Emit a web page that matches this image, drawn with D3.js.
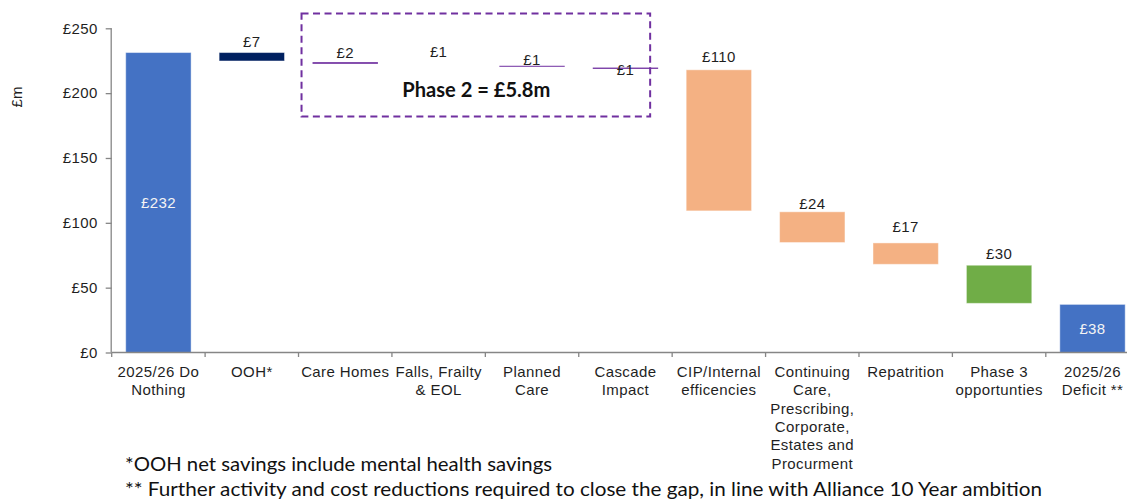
<!DOCTYPE html>
<html><head><meta charset="utf-8">
<script src="https://cdn.jsdelivr.net/npm/d3@7/dist/d3.min.js"></script>
<style>body{margin:0;background:#fff;overflow:hidden} svg{display:block}</style>
</head><body><svg id="c" width="1127" height="501"></svg>
<script>
// ---------- DATA ----------
const categories = ["2025/26 Do\nNothing","OOH*","Care Homes","Falls, Frailty\n& EOL","Planned\nCare","Cascade\nImpact","CIP/Internal\nefficencies","Continuing\nCare,\nPrescribing,\nCorporate,\nEstates and\nProcurment","Repatrition","Phase 3\nopportunties","2025/26\nDeficit **"];
const barLow  = [0,     224.8, 222.6, 221.8, 220.4, 218.7, 109.2, 84.8,  68.0, 37.9, 0];
const barHigh = [231.3, 231.3, 223.9, 222.6, 221.1, 219.7, 218.0, 108.5, 84.5, 67.3, 37.1];
const valueLabels = ["£232","£7","£2","£1","£1","£1","£110","£24","£17","£30","£38"];
const barKind = ["total","ooh","phase2","phase2hidden","phase2","phase2","saving","saving","saving","phase3","total"];
const yTicks = [0,50,100,150,200,250];
const yTickLabels = ["£0","£50","£100","£150","£200","£250"];
const yTitle = "£m";
const phase2Text = "Phase 2 = £5.8m";
const phase2Range = ["Care Homes","Cascade\nImpact"];
const phase2Values = [182, 261.5];
const footnotes = ["*OOH net savings include mental health savings",
  "** Further activity and cost reductions required to close the gap, in line with Alliance 10 Year ambition"];

// ---------- STYLE ----------
const kindColor = {total:"#4472C4", ooh:"#002060", phase2:"#7030A0", phase2hidden:"#ffffff", saving:"#F4B183", phase3:"#70AD47"};
const labelGap = [0, 5.6, 4.1, 6.8, 0.5, -7.1, 7.3, 3, 11.3, 6.3, 0];
const font = "'Liberation Sans', Arial, sans-serif";
const textCol = "#1f1f1f";
const axisCol = "#868686";

const svg = d3.select("#c");
const x = d3.scaleBand().domain(categories).range([111.7, 111.7 + 11*93.41]).paddingInner(0.3).paddingOuter(0.15);
const y = d3.scaleLinear().domain([0,250]).range([352.5, 28.3]);
const step = x.step(), bw = x.bandwidth();

// bars
const data = categories.map((c,i)=>({c, lo:barLow[i], hi:barHigh[i], label:valueLabels[i], kind:barKind[i], gap:labelGap[i]}));
svg.append("g").selectAll("rect").data(data).join("rect")
  .attr("x", d=>x(d.c)).attr("width", bw)
  .attr("y", d=>y(d.hi)).attr("height", d=>Math.max(1, y(d.lo)-y(d.hi)))
  .attr("fill", d=>kindColor[d.kind])
  .attr("stroke", d=>(d.kind==="phase2"||d.kind==="phase2hidden")?"none":"#ffffff")
  .attr("stroke-opacity",0.45).attr("stroke-width",1);

// value labels
svg.append("g").selectAll("text").data(data).join("text")
  .attr("x", d=>x(d.c)+bw/2)
  .attr("y", d=>d.kind==="total" ? (y(d.lo)+y(d.hi))/2+5.4 : y(d.hi)-d.gap)
  .attr("text-anchor","middle")
  .attr("font-family",font).attr("font-size",15).attr("letter-spacing","0.4px")
  .attr("fill", d=>d.kind==="total"?"#f4f4f4":textCol)
  .text(d=>d.label);

// y axis
const ya = svg.append("g").attr("transform","translate(111.7,0)")
  .call(d3.axisLeft(y).tickValues(yTicks).tickSize(6).tickPadding(8).tickFormat((d,i)=>yTickLabels[i]));
ya.select(".domain").attr("stroke",axisCol).attr("d",`M-0.5,${y(0)}V${y(250)}`).attr("stroke-width",1.3);
ya.selectAll(".tick line").attr("stroke",axisCol).attr("stroke-width",1.3);
ya.selectAll(".tick text").attr("font-family",font).attr("font-size",15).attr("letter-spacing","0.4px").attr("fill",textCol);

// x axis
const xa = svg.append("g").attr("transform",`translate(0,${y(0)})`)
  .call(d3.axisBottom(x).tickSize(0).tickPadding(0));
xa.select(".domain").attr("stroke",axisCol).attr("stroke-width",1.3).attr("d",`M${x.range()[0]},0H${x.range()[1]}`);
const bounds = categories.map(c=>x(c)-step*x.paddingInner()/2).concat([x(categories[10])+bw+step*x.paddingInner()/2]);
xa.selectAll(".bnd").data(bounds).join("line").attr("class","bnd")
  .attr("x1",d=>d).attr("x2",d=>d).attr("y1",0).attr("y2",4.5).attr("stroke",axisCol).attr("stroke-width",1.3);
xa.selectAll(".tick text").each(function(d){
  const t = d3.select(this).text(null).attr("y",0).attr("dy",null)
    .attr("font-family",font).attr("font-size",15).attr("letter-spacing","0.4px").attr("fill",textCol);
  d.split("\n").forEach((ln,i)=>t.append("tspan").attr("x",0).attr("y",24.5+i*18.3).text(ln));
});

// y title
svg.append("text").attr("transform","translate(22,97) rotate(-90)").attr("text-anchor","middle")
  .attr("font-family",font).attr("font-size",15).attr("fill",textCol).text(yTitle);

// phase 2 box
const bx0 = x(phase2Range[0]) - 11, bx1 = x(phase2Range[1]) + bw - 8;
svg.append("rect").attr("x",bx0).attr("y",y(phase2Values[1])).attr("width",bx1-bx0)
  .attr("height",y(phase2Values[0])-y(phase2Values[1]))
  .attr("fill","none").attr("stroke","#7030A0").attr("stroke-width",2).attr("stroke-dasharray","7,4.5");
svg.append("text").attr("x",(bx0+bx1)/2+0.5).attr("y",97).attr("text-anchor","middle")
  .attr("font-family","Lato, 'Open Sans', sans-serif").attr("font-weight","bold").attr("font-size",20)
  .attr("textLength",148).attr("lengthAdjust","spacingAndGlyphs").attr("fill","#111").text(phase2Text);

// footnotes
const fnW = [427, 917], fnY = [471, 496];
footnotes.forEach((f,i)=>svg.append("text").attr("x",125).attr("y",fnY[i])
  .attr("font-family","Lato, 'Open Sans', sans-serif").attr("font-size",20)
  .attr("textLength",fnW[i]).attr("lengthAdjust","spacingAndGlyphs").attr("fill","#111").text(f));
</script></body></html>
